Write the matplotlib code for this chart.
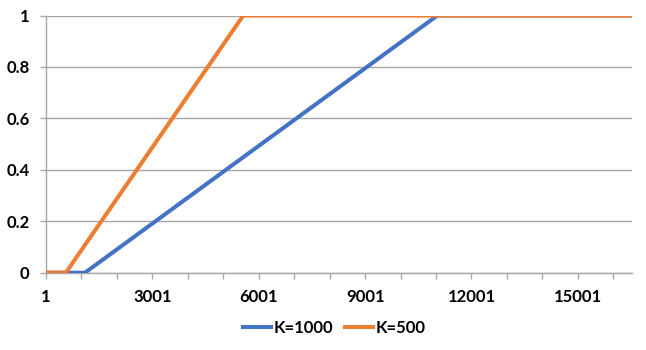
import matplotlib
matplotlib.use("Agg")
import matplotlib.pyplot as plt
import numpy as np

# Data: breakpoints of the two series
n_points = 16520
k1000_x = [1, 1100, 11040, 16520]
k1000_y = [0, 0, 1, 1]
k500_x = [1, 560, 5565, 16520]
k500_y = [0, 0, 1, 1]
series_names = ["K=1000", "K=500"]
xtick_vals = [1, 3001, 6001, 9001, 12001, 15001]
ytick_vals = [0, 0.2, 0.4, 0.6, 0.8, 1]
ytick_labels = ["0", "0.2", "0.4", "0.6", "0.8", "1"]

plt.rcParams['font.family'] = ['Lato', 'DejaVu Sans']
FS = 12

fig = plt.figure(figsize=(6.46, 3.5), dpi=100)
ax = fig.add_axes([46/646, 77.3/350, (631.7-46)/646, (272.7-15.5)/350])

blue = '#4472C4'
orange = '#ED7D31'
grid = '#A6A6A6'

ax.plot(k1000_x, k1000_y, color=blue, lw=2.9, solid_joinstyle='round', label=series_names[0], zorder=3)
ax.plot(k500_x, k500_y, color=orange, lw=2.9, solid_joinstyle='round', label=series_names[1], zorder=4)

ax.set_xlim(0.5, n_points + 0.5)
ax.set_ylim(0, 1)

ax.set_yticks(ytick_vals)
ax.set_yticklabels(ytick_labels, fontsize=FS, fontweight='bold')
ax.yaxis.grid(True, color=grid, lw=1)
ax.tick_params(axis='y', length=4.3, width=1, color=grid, pad=7.5)

ax.set_xticks(xtick_vals)
ax.set_xticklabels([str(v) for v in xtick_vals], fontsize=FS, fontweight='bold')
ax.tick_params(axis='x', which='major', length=0, pad=11.5)
ax.set_xticks(np.arange(0.5, n_points + 1, 1000), minor=True)
ax.tick_params(axis='x', which='minor', length=4.3, width=1, color=grid, direction='out')

for s in ['top', 'right']:
    ax.spines[s].set_visible(False)
for s in ['left', 'bottom']:
    ax.spines[s].set_color(grid)
    ax.spines[s].set_linewidth(1)
ax.set_axisbelow(True)

leg = fig.legend(loc='center', bbox_to_anchor=(334/646, 1 - 328/350), ncol=2, frameon=False,
                 prop={'size': FS, 'weight': 'bold'}, handlelength=1.7, handletextpad=0.15,
                 columnspacing=0.7)

fig.savefig('out.png', dpi=100)
